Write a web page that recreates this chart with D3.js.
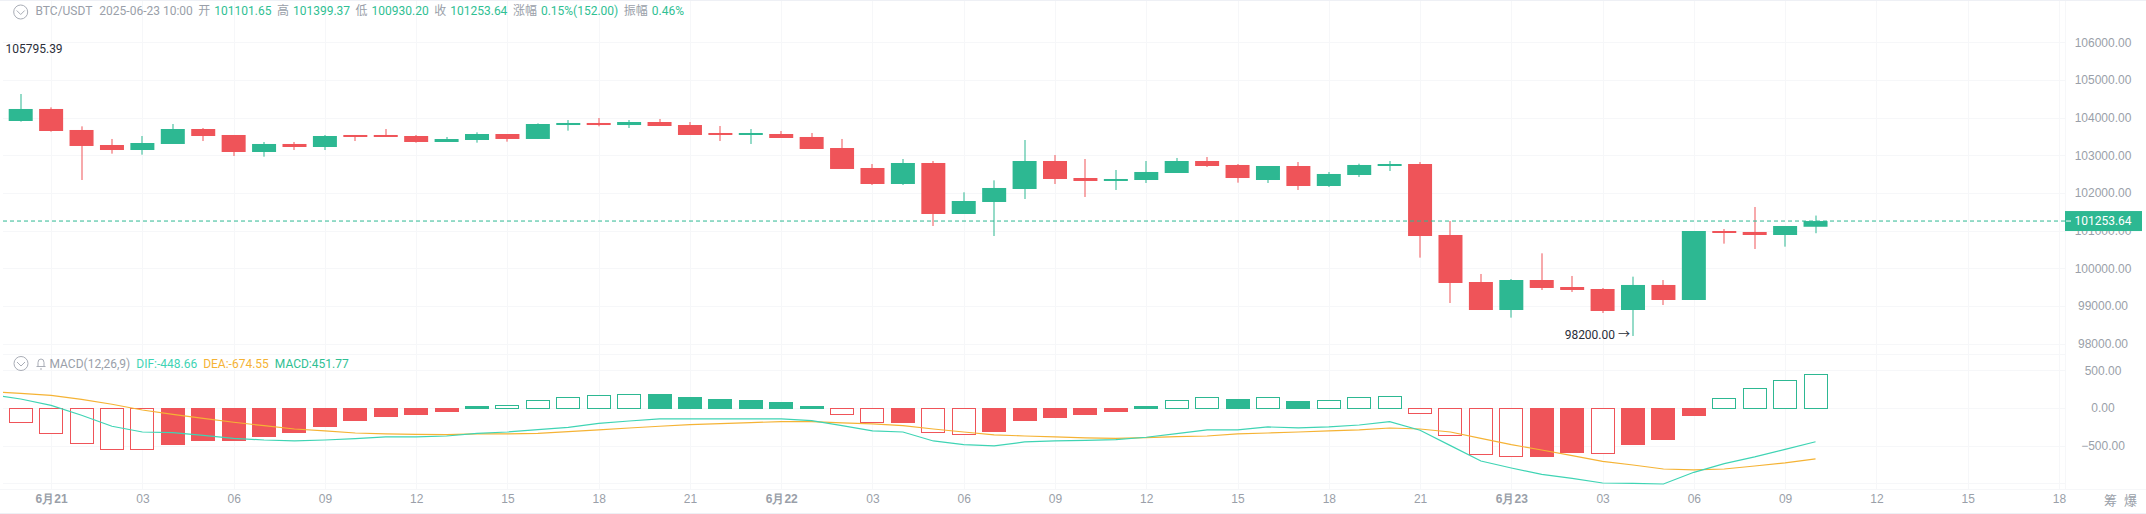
<!DOCTYPE html>
<html>

<head>
    <meta charset="utf-8">
    <style>
        html, body {
            margin: 0;
            background: #fff;
            overflow: hidden;
        }

        body {
            position: relative;
            width: 2146px;
            height: 514px;
            font-family: Roboto, 'Noto Sans CJK SC', sans-serif;
            font-size: 12px;
        }

        svg {
            position: absolute;
            left: 0;
            top: 0;
            font-family: Roboto, 'Noto Sans CJK SC', sans-serif;
        }

        .legend {
            position: absolute;
            white-space: nowrap;
            line-height: 16px;
            color: #9a9fa9;
        }

        .legend span { margin-right: 5.5px; }
        .legend span:first-child { margin-right: 7px; }
        .legend b { font-weight: 400; margin-left: 4px; color: #2fc093; }
    </style>
</head>

<body>
    <svg width="2146" height="514"></svg>
    <div class="legend" id="head" style="left:35.5px;top:3px"></div>
    <div class="legend" id="sub" style="left:49.5px;top:355.5px"></div>

    <script src="https://d3js.org/d3.v7.min.js"></script>
    <script>
        // candles, one per hour, first one is 06-20 23:00
        let opens = [103912, 104231, 103673, 103274, 103141, 103301, 103699, 103540, 103088, 103301, 103221, 103540, 103540, 103513, 103354, 103407, 103566, 103434, 103805, 103859, 103805, 103885, 103805, 103593, 103540, 103566, 103487, 103194, 102663, 102238, 102796, 101441, 101760, 102105, 102849, 102397, 102318, 102344, 102530, 102849, 102743, 102344, 102716, 102185, 102477, 102716, 102769, 100883, 99634, 98890, 99687, 99501, 99448, 98890, 99555, 99156, 100989, 100963, 100883, 101101.65]
        let closes = [104231, 103646, 103248, 103141, 103327, 103699, 103513, 103088, 103301, 103221, 103513, 103487, 103487, 103354, 103433, 103566, 103434, 103832, 103859, 103805, 103885, 103779, 103540, 103540, 103593, 103460, 103168, 102637, 102238, 102796, 101441, 101786, 102132, 102849, 102371, 102318, 102371, 102557, 102849, 102716, 102397, 102716, 102185, 102504, 102743, 102769, 100856, 99608, 98890, 99687, 99475, 99422, 98864, 99555, 99156, 100989, 100936, 100883, 101122, 101253.64]
        let highs = [104629, 104275, 103770, 103434, 103513, 103832, 103726, 103540, 103354, 103354, 103540, 103540, 103699, 103540, 103487, 103611, 103566, 103850, 103938, 103991, 103938, 103965, 103885, 103779, 103699, 103646, 103593, 103434, 102769, 102902, 102849, 102017, 102335, 103407, 103008, 102902, 102610, 102849, 102929, 102955, 102769, 102716, 102822, 102557, 102778, 102849, 102822, 101255, 99847, 99714, 100396, 99794, 99475, 99776, 99687, 100989, 101042, 101627, 101122, 101399.37]
        let lows = [103894, 103628, 102344, 103044, 103017, 103301, 103380, 102982, 102964, 103141, 103141, 103380, 103487, 103336, 103354, 103336, 103363, 103434, 103655, 103770, 103726, 103779, 103540, 103380, 103301, 103460, 103168, 102637, 102211, 102211, 101122, 101441, 100856, 101839, 102238, 101893, 102079, 102265, 102530, 102690, 102273, 102265, 102079, 102158, 102424, 102583, 100281, 99076, 98890, 98687, 99422, 99369, 98811, 98200, 99023, 99156, 100653, 100511, 100573, 100930.2]

        // macd, dif and dea carry one point more: the hour before the first candle
        let histogram = [-190, -336, -469, -549, -551, -473, -420, -420, -367, -314, -235, -155, -102, -75, -35, 31, 40, 106, 146, 173, 190, 188, 150, 124, 111, 84, 31, -84, -190, -181, -323, -350, -301, -155, -115, -75, -35, 31, 106, 146, 124, 146, 97, 106, 146, 159, -66, -363, -615, -642, -633, -588, -593, -473, -407, -88, 133, 265, 372, 451.77]
        let dif = [181, 119, 35, -97, -243, -319, -327, -363, -403, -425, -438, -425, -407, -385, -385, -372, -336, -319, -288, -257, -204, -173, -146, -146, -146, -146, -146, -168, -235, -305, -319, -438, -487, -504, -451, -438, -429, -420, -389, -341, -292, -292, -252, -265, -252, -226, -181, -296, -500, -704, -797, -881, -934, -996, -1000, -1009, -854, -739, -650, -549, -448.66]
        let dea = [217, 195, 168, 115, 49, -27, -84, -137, -190, -235, -279, -305, -332, -345, -350, -354, -345, -345, -336, -314, -292, -266, -243, -221, -208, -195, -181, -181, -199, -212, -235, -279, -319, -358, -372, -385, -398, -403, -394, -381, -372, -345, -332, -319, -305, -292, -266, -279, -319, -403, -487, -558, -633, -708, -757, -810, -823, -810, -770, -730, -674.55]

        let priceTicks = [106000, 105000, 104000, 103000, 102000, 101000, 100000, 99000, 98000]
        let macdTicks = [500, 0, -500]
        let macdGrid = [500, 0, -500, -1000]
        let timeIndex = [1, 4, 7, 10, 13, 16, 19, 22, 25, 28, 31, 34, 37, 40, 43, 46, 49, 52, 55, 58, 61, 64, 67]
        let timeLabels = ['6月21', '03', '06', '09', '12', '15', '18', '21', '6月22', '03', '06', '09', '12', '15', '18', '21', '6月23', '03', '06', '09', '12', '15', '18']

        let lastPrice = 101253.64
        let highLabel = 105795.39
        let lowLabel = 98200

        let headItems = [['开', '101101.65'], ['高', '101399.37'], ['低', '100930.20'], ['收', '101253.64'], ['涨幅', '0.15%(152.00)'], ['振幅', '0.46%']]
        let macdItems = [['DIF:-448.66', '#3fd4b4'], ['DEA:-674.55', '#f5b335'], ['MACD:451.77', '#2fc093']]

        let up = '#2db892'
        let down = '#ef5459'
        let gridColor = '#f6f7f9'
        let axisColor = '#9a9fa9'
        let plotLeft = 3
        let plotRight = 2065
        let plotBottom = 489

        let svg = d3.select('svg')

        let x = d3.scaleLinear().domain([0, 67]).range([20.7, 2058.9])
        let y = d3.scaleLinear().domain([106000, 98000]).range([42.4, 343.5])
        let macdY = d3.scaleLinear().domain([500, -1000]).range([370.3, 483.3])

        // frame and grid
        let grid = svg.append('g').attr('stroke', gridColor).attr('shape-rendering', 'crispEdges')

        grid.selectAll('.v').data(timeIndex).join('line')
            .attr('x1', d => Math.round(x(d))).attr('x2', d => Math.round(x(d)))
            .attr('y1', 0).attr('y2', plotBottom)

        grid.selectAll('.h').data(priceTicks).join('line')
            .attr('x1', plotLeft).attr('x2', plotRight)
            .attr('y1', d => Math.round(y(d))).attr('y2', d => Math.round(y(d)))

        grid.selectAll('.m').data(macdGrid).join('line')
            .attr('x1', plotLeft).attr('x2', plotRight)
            .attr('y1', d => Math.round(macdY(d))).attr('y2', d => Math.round(macdY(d)))

        grid.append('line').attr('x1', plotLeft).attr('x2', plotRight).attr('y1', 354).attr('y2', 354)
        grid.append('line').attr('x1', 0).attr('x2', 2146).attr('y1', plotBottom).attr('y2', plotBottom)
        grid.append('line').attr('x1', plotRight).attr('x2', plotRight).attr('y1', 0).attr('y2', plotBottom)
        grid.append('line').attr('x1', 0).attr('x2', 2146).attr('y1', 0.5).attr('y2', 0.5).attr('stroke', '#eef0f5')
        grid.append('line').attr('x1', 0).attr('x2', 2146).attr('y1', 513).attr('y2', 513).attr('stroke', '#eef0f5')

        // axes, labels are centred in the right column
        let styleAxis = function (g) {
            g.select('.domain').remove()
            g.selectAll('line').remove()
            g.selectAll('text').attr('fill', axisColor).attr('font-size', 12)
        }

        svg.append('g').attr('transform', 'translate(2103,0)')
            .call(d3.axisRight(y).tickValues(priceTicks).tickFormat(d3.format('.2f')).tickSize(0).tickPadding(0))
            .call(styleAxis)
            .selectAll('text').attr('text-anchor', 'middle')

        svg.append('g').attr('transform', 'translate(2103,0)')
            .call(d3.axisRight(macdY).tickValues(macdTicks).tickFormat(d3.format('.2f')).tickSize(0).tickPadding(0))
            .call(styleAxis)
            .selectAll('text').attr('text-anchor', 'middle')

        let xAxis = svg.append('g').attr('transform', 'translate(0,490)')
            .call(d3.axisBottom(x).tickValues(timeIndex).tickFormat((d, i) => timeLabels[i]).tickSize(0).tickPadding(4))
            .call(styleAxis)
        xAxis.selectAll('text').attr('font-weight', (d, i) => timeLabels[i].includes('月') ? 700 : 400)

        // candles
        let candles = svg.append('g').selectAll('g').data(opens).join('g')
            .attr('fill', (d, i) => closes[i] >= d ? up : down)

        candles.append('rect')
            .attr('x', (d, i) => Math.round(x(i)) - 0.5)
            .attr('width', 1)
            .attr('y', (d, i) => y(highs[i]))
            .attr('height', (d, i) => y(lows[i]) - y(highs[i]))

        candles.append('rect')
            .attr('x', (d, i) => x(i) - 12)
            .attr('width', 24)
            .attr('y', (d, i) => y(Math.max(d, closes[i])))
            .attr('height', (d, i) => Math.max(1, Math.abs(y(d) - y(closes[i]))))

        // last price line
        svg.append('line')
            .attr('x1', plotLeft).attr('x2', plotRight)
            .attr('y1', y(lastPrice)).attr('y2', y(lastPrice))
            .attr('stroke', up).attr('stroke-dasharray', '4,3')

        svg.append('rect')
            .attr('x', plotRight).attr('width', 77)
            .attr('y', y(lastPrice) - 10).attr('height', 20)
            .attr('fill', up)

        svg.append('line')
            .attr('x1', plotRight + 1).attr('x2', plotRight + 6)
            .attr('y1', y(lastPrice)).attr('y2', y(lastPrice))
            .attr('stroke', '#fff')

        svg.append('text')
            .attr('x', 2103).attr('y', y(lastPrice)).attr('dy', '0.35em')
            .attr('text-anchor', 'middle').attr('fill', '#fff').attr('font-size', 12)
            .text(d3.format('.2f')(lastPrice))

        // high and low notes
        svg.append('text')
            .attr('x', 5.5).attr('y', y(highLabel)).attr('dy', '0.25em')
            .attr('fill', '#2a2e39').attr('font-size', 12)
            .text(d3.format('.2f')(highLabel))

        svg.append('text')
            .attr('x', x(53) - 3).attr('y', y(lowLabel)).attr('dy', '0.25em')
            .attr('text-anchor', 'end').attr('fill', '#2a2e39').attr('font-size', 12)
            .text(d3.format('.2f')(lowLabel) + '  →')

        // macd histogram: hollow while the bar grows
        let isHollow = (d, i) => {
            let prev = i > 0 ? histogram[i - 1] : 0
            return d < 0 ? d < prev : d > Math.abs(prev)
        }

        svg.append('g').selectAll('rect').data(histogram).join('rect')
            .attr('x', (d, i) => Math.round(x(i)) - 11.5)
            .attr('width', 23)
            .attr('y', d => Math.round(macdY(Math.max(d, 0))) + 0.5)
            .attr('height', d => Math.max(1, Math.abs(Math.round(macdY(d)) - Math.round(macdY(0)))))
            .attr('fill', (d, i) => isHollow(d, i) ? '#fff' : (d >= 0 ? up : down))
            .attr('stroke', d => d >= 0 ? up : down)

        // dif and dea, clipped at the left edge of the plot
        svg.append('clipPath').attr('id', 'plot').append('rect')
            .attr('x', plotLeft).attr('y', 354).attr('width', plotRight - plotLeft).attr('height', 135)

        let macdLine = d3.line().x((d, i) => x(i - 1)).y(d => macdY(d))

        svg.append('path').datum(dea)
            .attr('d', macdLine).attr('clip-path', 'url(#plot)')
            .attr('fill', 'none').attr('stroke', '#f5b335').attr('stroke-width', 1.2)

        svg.append('path').datum(dif)
            .attr('d', macdLine).attr('clip-path', 'url(#plot)')
            .attr('fill', 'none').attr('stroke', '#3fd4b4').attr('stroke-width', 1.2)

        // collapse icons and bell
        let chevron = function (cx, cy) {
            svg.append('circle').attr('cx', cx).attr('cy', cy).attr('r', 7)
                .attr('fill', 'none').attr('stroke', '#a9adb6')
            svg.append('path').attr('d', `M${cx - 4},${cy - 1.5}L${cx},${cy + 2.5}L${cx + 4},${cy - 1.5}`)
                .attr('fill', 'none').attr('stroke', '#a9adb6')
        }
        chevron(20.7, 12)
        chevron(21, 363.5)

        svg.append('path')
            .attr('d', 'M36.5,366.5h9M38,366.5v-4a3,3.5 0 0 1 6,0v4M40,369h2')
            .attr('fill', 'none').attr('stroke', '#a9adb6')

        // header texts
        let head = d3.select('#head')
        head.append('span').text('BTC/USDT')
        head.append('span').text('2025-06-23 10:00')
        head.selectAll('.item').data(headItems).join('span')
            .text(d => d[0])
            .append('b').text(d => d[1])

        let sub = d3.select('#sub')
        sub.append('span').style('margin-right', '6px').text('MACD(12,26,9)')
        sub.selectAll('.item').data(macdItems).join('span')
            .style('margin-right', '6px')
            .style('color', d => d[1])
            .text(d => d[0])

        // right column bottom buttons
        svg.append('text').attr('x', 2110.5).attr('y', 500).attr('dy', '0.35em')
            .attr('text-anchor', 'middle').attr('fill', axisColor).attr('font-size', 13).text('筹')
        svg.append('text').attr('x', 2130.5).attr('y', 500).attr('dy', '0.35em')
            .attr('text-anchor', 'middle').attr('fill', axisColor).attr('font-size', 13).text('爆')
    </script>
</body>

</html>
